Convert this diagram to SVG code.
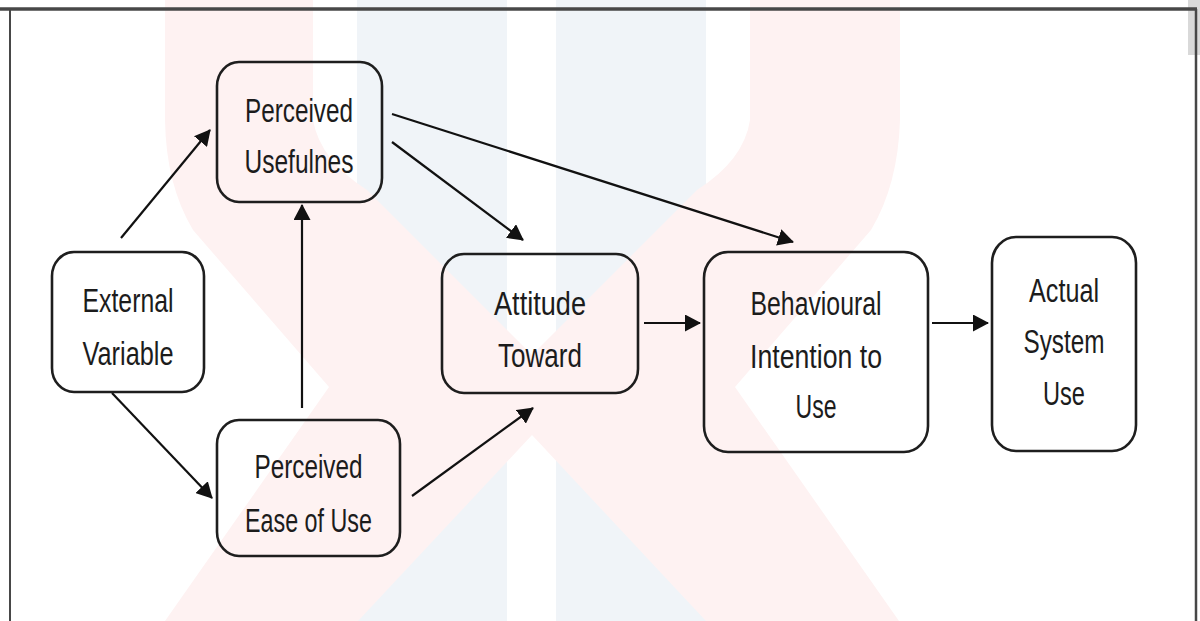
<svg xmlns="http://www.w3.org/2000/svg" width="1200" height="621" viewBox="0 0 1200 621">
<defs>
<style>
.node rect{fill:none;stroke:#1e1e1e;stroke-width:2.6}
.node text{font-family:"Liberation Sans",Arial,sans-serif;font-size:33px;fill:#1c1c1c;text-anchor:middle}
.conn line{stroke:#111;stroke-width:2.2;marker-end:url(#ah)}
</style>
<marker id="ah" markerUnits="userSpaceOnUse" markerWidth="16" markerHeight="17" refX="15" refY="8.5" orient="auto">
<path d="M0,0 L16,8.5 L0,17 z" fill="#111"/>
</marker>
</defs>
<rect width="1200" height="621" fill="#fff"/>
<g id="watermark">
<rect x="357" y="0" width="150" height="621" fill="#f0f4f8"/>
<rect x="556" y="0" width="150" height="621" fill="#f0f4f8"/>
<path fill="#fef2f2" d="M165,0 L313,0 L313,120 Q320,160 367,190 L532,355 L697,190 Q744,160 750,120 L750,0 L900,0 L900,120 Q898,185 871,230 L735,387 L899,621 L706,621 L532,435 L358,621 L165,621 L329,387 L193,230 Q166,185 165,120 Z"/>
</g>
<rect x="1188" y="0" width="12" height="55" fill="#d9d9d9"/>
<g id="frame" stroke="#474747" fill="none">
<line x1="0" y1="9" x2="1197" y2="9" stroke-width="3.5"/>
<line x1="10" y1="9" x2="10" y2="621" stroke-width="2"/>
<line x1="1196" y1="9" x2="1196" y2="621" stroke-width="2.5"/>
</g>
<g id="connectors" class="conn">
<line x1="121" y1="238" x2="210" y2="130"/>
<line x1="112" y1="393" x2="212" y2="498"/>
<line x1="302" y1="408" x2="302" y2="205"/>
<line x1="392" y1="142" x2="523" y2="240"/>
<line x1="392" y1="114" x2="793" y2="242"/>
<line x1="412" y1="496" x2="533" y2="408"/>
<line x1="644" y1="323" x2="700" y2="323"/>
<line x1="932" y1="323" x2="988" y2="323"/>
</g>
<g id="perceived-usefulness" class="node">
<rect x="217" y="62" width="165" height="140" rx="22" ry="24"/>
<text x="299" y="122" textLength="108" lengthAdjust="spacingAndGlyphs">Perceived</text>
<text x="299" y="173" textLength="109" lengthAdjust="spacingAndGlyphs">Usefulnes</text>
</g>
<g id="external-variable" class="node">
<rect x="52" y="252" width="152" height="140" rx="22" ry="24"/>
<text x="128" y="312" textLength="91" lengthAdjust="spacingAndGlyphs">External</text>
<text x="128" y="365" textLength="91" lengthAdjust="spacingAndGlyphs">Variable</text>
</g>
<g id="perceived-ease" class="node">
<rect x="217" y="420" width="183" height="136" rx="22" ry="24"/>
<text x="308.5" y="478" textLength="108" lengthAdjust="spacingAndGlyphs">Perceived</text>
<text x="308.5" y="532" textLength="127" lengthAdjust="spacingAndGlyphs">Ease of Use</text>
</g>
<g id="attitude" class="node">
<rect x="442" y="254" width="196" height="139" rx="22" ry="24"/>
<text x="540" y="315" textLength="92" lengthAdjust="spacingAndGlyphs">Attitude</text>
<text x="540" y="367" textLength="84" lengthAdjust="spacingAndGlyphs">Toward</text>
</g>
<g id="behavioural-intention" class="node">
<rect x="704" y="252" width="224" height="200" rx="24" ry="26"/>
<text x="816" y="315" textLength="131" lengthAdjust="spacingAndGlyphs">Behavioural</text>
<text x="816" y="368" textLength="132" lengthAdjust="spacingAndGlyphs">Intention to</text>
<text x="816" y="418" textLength="41" lengthAdjust="spacingAndGlyphs">Use</text>
</g>
<g id="actual-use" class="node">
<rect x="992" y="237" width="144" height="214" rx="24" ry="26"/>
<text x="1064" y="302" textLength="70" lengthAdjust="spacingAndGlyphs">Actual</text>
<text x="1064" y="353" textLength="81" lengthAdjust="spacingAndGlyphs">System</text>
<text x="1064" y="405" textLength="42" lengthAdjust="spacingAndGlyphs">Use</text>
</g>
</svg>
